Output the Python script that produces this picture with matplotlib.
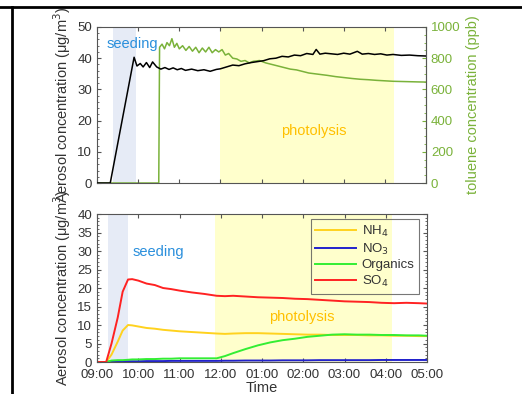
import matplotlib
matplotlib.use("Agg")
import matplotlib.pyplot as plt
from matplotlib.lines import Line2D
from matplotlib.ticker import MultipleLocator

plt.rcParams['font.family'] = ['Liberation Sans', 'DejaVu Sans']

# hours after 09:00
hour_ticks = [0, 1, 2, 3, 4, 5, 6, 7, 8]
hour_labels = ['09:00', '10:00', '11:00', '12:00', '01:00', '02:00', '03:00', '04:00', '05:00']

# top panel: total aerosol (black) and toluene (green)
t_aer = [0, 0.32, 0.9, 0.97, 1.05, 1.12, 1.2, 1.28, 1.35, 1.45, 1.55, 1.65, 1.75, 1.85, 1.95,
         2.05, 2.15, 2.3, 2.45, 2.6, 2.75, 2.9, 3.0, 3.15, 3.3, 3.45, 3.6, 3.75, 3.9, 4.05,
         4.2, 4.35, 4.5, 4.65, 4.8, 4.95, 5.1, 5.25, 5.33, 5.42, 5.55, 5.7, 5.85, 6.0, 6.15,
         6.33, 6.45, 6.6, 6.75, 6.9, 7.05, 7.2, 7.4, 7.6, 7.8, 8.0]
aerosol = [0, 0, 40.3, 37.5, 38.3, 37.2, 38.6, 37.0, 38.8, 37.2, 36.5, 37.0, 36.4, 36.9, 36.3,
           36.7, 36.1, 36.5, 36.0, 36.3, 35.8, 36.4, 36.6, 37.2, 37.8, 37.6, 38.2, 38.6, 38.9, 39.2,
           39.8, 40.0, 40.6, 40.4, 41.0, 40.8, 41.5, 41.2, 42.8, 41.3, 41.6, 41.4, 41.2, 41.6, 41.3,
           42.2, 41.3, 41.5, 41.2, 41.4, 41.0, 41.2, 40.9, 41.0, 40.8, 40.7]

t_tol = [0, 1.5, 1.52, 1.58, 1.64, 1.7, 1.76, 1.82, 1.88, 1.94, 2.0, 2.08, 2.16, 2.24, 2.32,
         2.4, 2.48, 2.56, 2.64, 2.72, 2.8, 2.88, 2.96, 3.04, 3.12, 3.2, 3.3, 3.4, 3.5, 3.6,
         3.7, 3.8, 3.95, 4.1, 4.25, 4.4, 4.55, 4.7, 4.85, 5.0, 5.15, 5.3, 5.45, 5.6, 5.8,
         6.0, 6.2, 6.4, 6.6, 6.8, 7.0, 7.2, 7.5, 7.8, 8.0]
toluene = [0, 0, 870, 890, 860, 900, 880, 925, 870, 895, 860, 880, 850, 875, 845,
           870, 835, 865, 840, 870, 835, 855, 840, 855, 820, 830, 800, 795, 780, 785,
           770, 780, 785, 770, 760, 750, 740, 730, 725, 715, 705, 700, 695, 690, 682,
           676, 670, 665, 662, 658, 655, 652, 650, 648, 647]

# bottom panel: composition
t_comp = [0, 0.22, 0.35, 0.5, 0.62, 0.75, 0.85, 1.0, 1.2, 1.4, 1.6, 1.8, 2.0, 2.3, 2.6, 2.9,
          3.1, 3.3, 3.6, 3.9, 4.2, 4.5, 4.8, 5.1, 5.4, 5.7, 6.0, 6.3, 6.6, 6.9, 7.2, 7.5, 7.8, 8.0]
so4 = [0, 0, 5, 12, 19, 22.3, 22.4, 22.0, 21.2, 20.8, 20.0, 19.7, 19.3, 18.8, 18.4, 17.9,
       17.8, 17.9, 17.7, 17.5, 17.4, 17.3, 17.1, 17.0, 16.8, 16.6, 16.4, 16.3, 16.2, 16.0, 15.9, 16.0, 15.9, 15.8]
nh4 = [0, 0, 2, 5.5, 8.5, 10.0, 9.9, 9.6, 9.2, 9.0, 8.7, 8.5, 8.3, 8.1, 7.9, 7.7,
       7.6, 7.7, 7.8, 7.8, 7.7, 7.6, 7.5, 7.4, 7.4, 7.3, 7.3, 7.3, 7.2, 7.2, 7.1, 7.1, 7.0, 7.0]
organics = [0, 0, 0.4, 0.5, 0.5, 0.6, 0.7, 0.7, 0.8, 0.8, 0.9, 0.9, 1.0, 1.0, 1.0, 1.0,
            1.6, 2.4, 3.5, 4.5, 5.3, 5.9, 6.3, 6.8, 7.1, 7.4, 7.5, 7.4, 7.4, 7.3, 7.3, 7.2, 7.2, 7.1]
no3 = [0, 0, 0.1, 0.15, 0.2, 0.2, 0.2, 0.2, 0.25, 0.25, 0.25, 0.3, 0.3, 0.3, 0.3, 0.3,
       0.35, 0.35, 0.4, 0.4, 0.4, 0.45, 0.45, 0.45, 0.5, 0.5, 0.5, 0.5, 0.5, 0.55, 0.55, 0.55, 0.55, 0.55]

seed_top, photo_top = (0.39, 0.95), (2.98, 7.22)
seed_bot, photo_bot = (0.27, 0.75), (2.86, 7.14)

GREEN = '#7ab23a'
SEED_BG = '#e6ebf6'
PHOTO_BG = '#ffffcc'
SEED_TXT = '#2a8fdc'
PHOTO_TXT = '#ffc000'
AX_COL = '#555555'

fig = plt.figure(figsize=(5.22, 3.94), dpi=100)

# table border of the page
fig.add_artist(Line2D([0, 1], [0.982, 0.982], color='black', lw=2))
fig.add_artist(Line2D([0.023, 0.023], [0, 0.982], color='black', lw=2))

def style(ax):
    for s in ax.spines.values():
        s.set_color(AX_COL)
        s.set_linewidth(0.8)
    ax.tick_params(direction='in', which='both', colors=AX_COL, labelcolor='#333333',
                   labelsize=9.5, length=3)
    ax.tick_params(which='minor', length=1.5)
    ax.set_xlim(0, 8)
    ax.set_xticks(hour_ticks)

# ---- top
ax1 = fig.add_axes([0.186, 0.5355, 0.630, 0.396])
style(ax1)
ax1.set_ylim(0, 50)
ax1.yaxis.set_major_locator(MultipleLocator(10))
ax1.yaxis.set_minor_locator(MultipleLocator(2))
ax1.set_xticklabels([])
ax1.tick_params(top=True, which='both')
ax1.set_ylabel('Aerosol concentration (μg/m$^3$)', fontsize=10.5, color='#333333', labelpad=3)

ax1r = ax1.twinx()
# bands live on the twin (drawn underneath), so the toluene line stays visible
ax1r.axvspan(*seed_top, color=SEED_BG, lw=0, zorder=0)
ax1r.axvspan(*photo_top, color=PHOTO_BG, lw=0, zorder=0)
ax1r.plot(t_tol, toluene, color=GREEN, lw=1.1)
ax1r.set_ylim(0, 1000)
ax1r.yaxis.set_major_locator(MultipleLocator(200))
ax1r.yaxis.set_minor_locator(MultipleLocator(50))
ax1r.tick_params(direction='in', which='both', colors=GREEN, labelsize=9.5, length=3)
ax1r.tick_params(which='minor', length=1.5)
for s in ax1r.spines.values():
    s.set_visible(False)
ax1r.spines['right'].set_visible(True)
ax1r.spines['right'].set_color(GREEN)
ax1r.set_ylabel('toluene concentration (ppb)', fontsize=10.5, color=GREEN, labelpad=4)
ax1.set_zorder(ax1r.get_zorder() + 1)
ax1.patch.set_visible(False)

ax1.plot(t_aer, aerosol, color='black', lw=1.1, zorder=3)
ax1.text(0.24, 44.5, 'seeding', color=SEED_TXT, fontsize=10.5, va='center', zorder=5)
ax1.text(4.48, 16.7, 'photolysis', color=PHOTO_TXT, fontsize=10.5, va='center')

# ---- bottom
ax2 = fig.add_axes([0.186, 0.0812, 0.632, 0.3756])
style(ax2)
ax2.axvspan(*seed_bot, color=SEED_BG, lw=0)
ax2.axvspan(*photo_bot, color=PHOTO_BG, lw=0)
ax2.plot(t_comp, nh4, color='#ffd21e', lw=1.4, label='NH$_4$')
ax2.plot(t_comp, no3, color='#2222cc', lw=1.4, label='NO$_3$')
ax2.plot(t_comp, organics, color='#33ee33', lw=1.4, label='Organics')
ax2.plot(t_comp, so4, color='#ff2222', lw=1.4, label='SO$_4$')
ax2.set_ylim(0, 40)
ax2.yaxis.set_major_locator(MultipleLocator(5))
ax2.yaxis.set_minor_locator(MultipleLocator(1))
ax2.set_xticklabels(hour_labels)
ax2.tick_params(axis='x', pad=5)
ax2.tick_params(top=True, right=True, which='both')
ax2.set_ylabel('Aerosol concentration (μg/m$^3$)', fontsize=10.5, color='#333333', labelpad=3)
ax2.set_xlabel('Time', fontsize=10.5, color='#333333', labelpad=0)
ax2.text(0.85, 29.7, 'seeding', color=SEED_TXT, fontsize=10.5, va='center')
ax2.text(4.17, 12.2, 'photolysis', color=PHOTO_TXT, fontsize=10.5, va='center')
leg = ax2.legend(loc='upper right', bbox_to_anchor=(0.976, 0.966), fontsize=9.5,
                 handlelength=3.1, frameon=True, fancybox=False, borderpad=0.35,
                 borderaxespad=0, labelspacing=0.2, handletextpad=0.4)
leg.get_frame().set_facecolor('none')
leg.get_frame().set_edgecolor('#555555')
leg.get_frame().set_linewidth(0.8)
for txt in leg.get_texts():
    txt.set_color('#333333')

fig.savefig('out.png', dpi=100)
